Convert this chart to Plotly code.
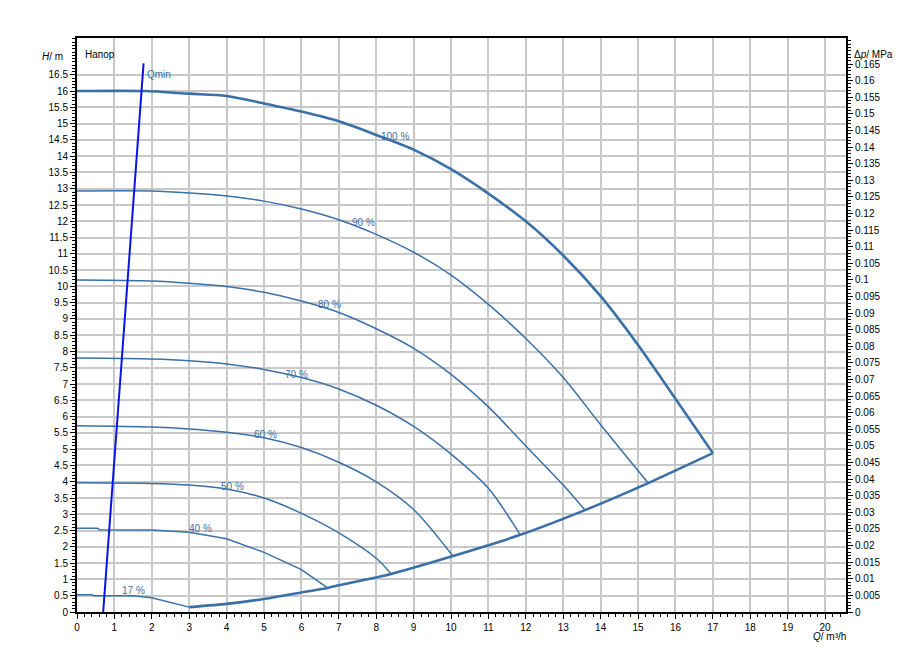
import plotly.graph_objects as go

curves = {
    "100 %": ([0, 1.8, 3, 4, 5, 6, 7, 8, 9, 10, 11, 12, 13, 14, 15, 16, 17],
              [16.0, 16.0, 15.92, 15.85, 15.62, 15.37, 15.07, 14.65, 14.2, 13.6, 12.85, 12.0, 10.95, 9.7, 8.2, 6.55, 4.88]),
    "90 %": ([0, 2, 3, 4, 5, 6, 7, 8, 9, 10, 11, 12, 13, 14, 15.27],
             [12.93, 12.93, 12.87, 12.78, 12.62, 12.38, 12.05, 11.6, 11.05, 10.35, 9.45, 8.4, 7.2, 5.75, 3.96]),
    "80 %": ([0, 2, 3, 4, 5, 6, 7, 8, 9, 10, 11, 12, 13, 13.58],
             [10.2, 10.17, 10.1, 10.0, 9.82, 9.55, 9.2, 8.7, 8.1, 7.3, 6.3, 5.1, 3.9, 3.13]),
    "70 %": ([0, 2, 3, 4, 5, 6, 7, 8, 9, 10, 11, 11.85],
             [7.8, 7.77, 7.72, 7.62, 7.45, 7.2, 6.85, 6.35, 5.7, 4.85, 3.8, 2.37]),
    "60 %": ([0, 2, 3, 4, 5, 6, 7, 8, 9, 10.05],
             [5.72, 5.68, 5.62, 5.52, 5.35, 5.05, 4.6, 4.0, 3.15, 1.72]),
    "50 %": ([0, 2, 3, 4, 5, 6, 7, 8, 8.4],
             [3.97, 3.95, 3.9, 3.78, 3.5, 3.03, 2.43, 1.65, 1.17]),
    "40 %": ([0, 0.55, 0.6, 2, 3, 4, 5, 6, 6.7],
             [2.57, 2.57, 2.53, 2.52, 2.45, 2.25, 1.83, 1.3, 0.74]),
    "17 %": ([0, 0.4, 0.45, 1.5, 2, 3],
             [0.53, 0.53, 0.5, 0.5, 0.44, 0.15]),
}
label_pos = {"100 %": (8.5, 14.62), "90 %": (7.65, 11.95), "80 %": (6.76, 9.46),
             "70 %": (5.88, 7.31), "60 %": (5.05, 5.45), "50 %": (4.17, 3.84),
             "40 %": (3.3, 2.55), "17 %": (1.52, 0.65)}
lim_q = [3, 4, 5, 6, 6.7, 7, 8.4, 10.05, 11.85, 13.58, 15.27, 17]
lim_h = [0.15, 0.25, 0.4, 0.6, 0.74, 0.82, 1.17, 1.72, 2.37, 3.13, 3.96, 4.88]
qmin_q = [0.7, 1.78]
qmin_h = [0.0, 16.85]
h_ticks = [i * 0.5 for i in range(34)]
p_ticks = [i * 0.005 for i in range(34)]

C = "#3a70a8"
M_PER_MPA = 102.0
YMAX = 17.63
XMAX = 20.56

def fmt(v):
    return ("%.3f" % v).rstrip("0").rstrip(".")

fig = go.Figure()
for name, (q, h) in curves.items():
    w = 2.6 if name == "100 %" else 1.5
    shape = "linear" if name in ("40 %", "17 %") else "spline"
    fig.add_trace(go.Scatter(x=q, y=h, mode="lines", line=dict(color=C, width=w, shape=shape, smoothing=0.8),
                             showlegend=False))
    lx, ly = label_pos[name]
    fig.add_annotation(x=lx, y=ly, text=name, showarrow=False, font=dict(color=C, size=10))
fig.add_trace(go.Scatter(x=lim_q, y=lim_h, mode="lines", line=dict(color=C, width=2.6, shape="spline", smoothing=0.5),
                         showlegend=False))
fig.add_trace(go.Scatter(x=qmin_q, y=qmin_h, mode="lines", line=dict(color="#0a14e6", width=2), showlegend=False))
fig.add_annotation(x=1.82, y=16.5, text="Qmin", showarrow=False, xanchor="left", font=dict(color=C, size=10))
fig.add_trace(go.Scatter(x=[0], y=[0], yaxis="y2", mode="markers", marker=dict(opacity=0), showlegend=False, hoverinfo="skip"))

fig.add_annotation(xref="paper", yref="paper", x=0.008, y=0.985, text="Напор", showarrow=False,
                   xanchor="left", yanchor="top", font=dict(size=10, color="black"))
fig.add_annotation(xref="paper", yref="paper", x=-0.015, y=0.98, text="<i>H</i>/ m", showarrow=False,
                   xanchor="right", font=dict(size=10, color="black"))
fig.add_annotation(xref="paper", yref="paper", x=1.008, y=0.985, text="Δ<i>p</i>/ MPa", showarrow=False,
                   xanchor="left", font=dict(size=10, color="black"))
fig.add_annotation(xref="paper", yref="paper", x=0.955, y=-0.03, text="<i>Q</i>/ m³/h", showarrow=False,
                   xanchor="left", yanchor="top", font=dict(size=10, color="black"))

ax = dict(showline=True, linecolor="black", linewidth=2, ticks="outside", ticklen=5,
          tickcolor="black", gridcolor="#c8c8c8", gridwidth=1.5, zeroline=False,
          tickfont=dict(size=10, color="black"), automargin=False)
fig.update_layout(
    width=923, height=656, plot_bgcolor="white", paper_bgcolor="white",
    margin=dict(l=69, r=85, t=30, b=52),
    font=dict(family="Liberation Sans, Arial", size=10),
    xaxis=dict(**ax, range=[0, XMAX], tickvals=list(range(21)), ticktext=[str(i) for i in range(21)], mirror=True,
               minor=dict(dtick=0.2, ticks="outside", ticklen=3, tickcolor="black", showgrid=False)),
    yaxis=dict(**ax, range=[0, YMAX], tickvals=h_ticks, ticktext=[fmt(v) for v in h_ticks],
               minor=dict(dtick=0.1, ticks="outside", ticklen=3, tickcolor="black", showgrid=False)),
    yaxis2=dict(overlaying="y", side="right", range=[0, YMAX / M_PER_MPA], showgrid=False, automargin=False,
                showline=True, linecolor="black", linewidth=2, ticks="outside", ticklen=5,
                tickcolor="black", tickvals=p_ticks, ticktext=[fmt(v) for v in p_ticks],
                tickfont=dict(size=10, color="black"), zeroline=False,
                minor=dict(dtick=0.001, ticks="outside", ticklen=3, tickcolor="black")),
)
fig.write_html("out.html")
